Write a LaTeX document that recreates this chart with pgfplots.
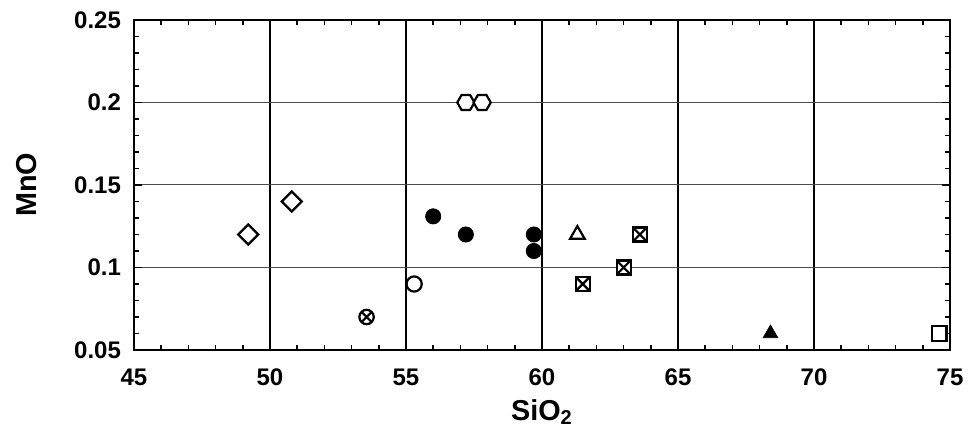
\documentclass[border=0pt]{standalone}
\usepackage{fontspec}
\setmainfont{Liberation Sans}
\usepackage{pgfplots}
\pgfplotsset{compat=1.18}
\usetikzlibrary{plotmarks}

% extra marks the chart uses
\pgfdeclareplotmark{hexagon}{%
  \pgfpathmoveto{\pgfqpointpolar{0}{\pgfplotmarksize}}%
  \pgfpathlineto{\pgfqpointpolar{60}{\pgfplotmarksize}}%
  \pgfpathlineto{\pgfqpointpolar{120}{\pgfplotmarksize}}%
  \pgfpathlineto{\pgfqpointpolar{180}{\pgfplotmarksize}}%
  \pgfpathlineto{\pgfqpointpolar{240}{\pgfplotmarksize}}%
  \pgfpathlineto{\pgfqpointpolar{300}{\pgfplotmarksize}}%
  \pgfpathclose\pgfusepathqfillstroke}
\pgfdeclareplotmark{rhomb}{%
  \pgfpathmoveto{\pgfqpoint{0pt}{\pgfplotmarksize}}%
  \pgfpathlineto{\pgfqpoint{\pgfplotmarksize}{0pt}}%
  \pgfpathlineto{\pgfqpoint{0pt}{-\pgfplotmarksize}}%
  \pgfpathlineto{\pgfqpoint{-\pgfplotmarksize}{0pt}}%
  \pgfpathclose\pgfusepathqfillstroke}
\pgfdeclareplotmark{squarex}{%
  \pgfpathrectangle{\pgfqpoint{-\pgfplotmarksize}{-\pgfplotmarksize}}{\pgfqpoint{2\pgfplotmarksize}{2\pgfplotmarksize}}%
  \pgfusepathqfillstroke
  \pgfpathmoveto{\pgfqpoint{-\pgfplotmarksize}{-\pgfplotmarksize}}%
  \pgfpathlineto{\pgfqpoint{\pgfplotmarksize}{\pgfplotmarksize}}%
  \pgfpathmoveto{\pgfqpoint{-\pgfplotmarksize}{\pgfplotmarksize}}%
  \pgfpathlineto{\pgfqpoint{\pgfplotmarksize}{-\pgfplotmarksize}}%
  \pgfusepathqstroke}

\begin{document}
\begin{tikzpicture}
  \begin{axis}[
      name=ax,
      scale only axis,
      width=408pt, height=165pt,
      xmin=45, xmax=75,
      ymin=0.05, ymax=0.25,
      xtick={45,50,...,75},
      ytick={0.05,0.1,0.15,0.2,0.25},
      minor x tick num=4,
      minor y tick num=4,
      tick align=inside,
      major tick length=4pt,
      minor tick length=2.5pt,
      axis line style={line width=1.1pt},
      every tick/.style={black, line width=0.8pt},
      xmajorgrids, ymajorgrids,
      major x grid style={black, line width=1.3pt},
      major y grid style={black!70, line width=0.5pt},
      /pgf/number format/assume math mode=true,
      /pgf/number format/fixed,
      /pgf/number format/precision=2,
      ticklabel style={font=\large\bfseries},
      xticklabel style={yshift=-6pt},
      yticklabel style={xshift=-3pt},
      xlabel={\bfseries SiO\textsubscript{2}},
      ylabel={\bfseries MnO},
      label style={font=\Large},
      xlabel style={yshift=0pt},
      ylabel style={yshift=12pt},
      mark options={solid, line width=1.1pt, fill=white},
    ]
    % open diamonds
    \addplot[only marks, mark=rhomb, mark size=5pt] coordinates {(49.2,0.12) (50.8,0.14)};
    % circle with cross
    \addplot[only marks, mark=otimes, mark size=3.6pt] coordinates {(53.55,0.07)};
    % open circle
    \addplot[only marks, mark=o, mark size=3.8pt] coordinates {(55.3,0.09)};
    % filled circles
    \addplot[only marks, mark=*, mark size=3.8pt, mark options={fill=black}]
      coordinates {(56.0,0.131) (57.2,0.12) (59.7,0.12) (59.7,0.11)};
    % hexagons
    \addplot[only marks, mark=hexagon, mark size=4.3pt] coordinates {(57.2,0.2) (57.8,0.2)};
    % open triangle
    \addplot[only marks, mark=triangle, mark size=4.2pt] coordinates {(61.3,0.12)};
    % boxed crosses
    \addplot[only marks, mark=squarex, mark size=3.5pt]
      coordinates {(61.5,0.09) (63.0,0.10) (63.6,0.12)};
    % filled triangle
    \addplot[only marks, mark=triangle*, mark size=4.2pt, mark options={fill=black}] coordinates {(68.4,0.06)};
    % open square
    \addplot[only marks, mark=square, mark size=3.7pt] coordinates {(74.6,0.06)};
  \end{axis}
  \pgfresetboundingbox
  \path[use as bounding box] ([shift={(-67pt,-44pt)}]ax.south west) rectangle ([shift={(11pt,10pt)}]ax.north east);
\end{tikzpicture}
\end{document}
